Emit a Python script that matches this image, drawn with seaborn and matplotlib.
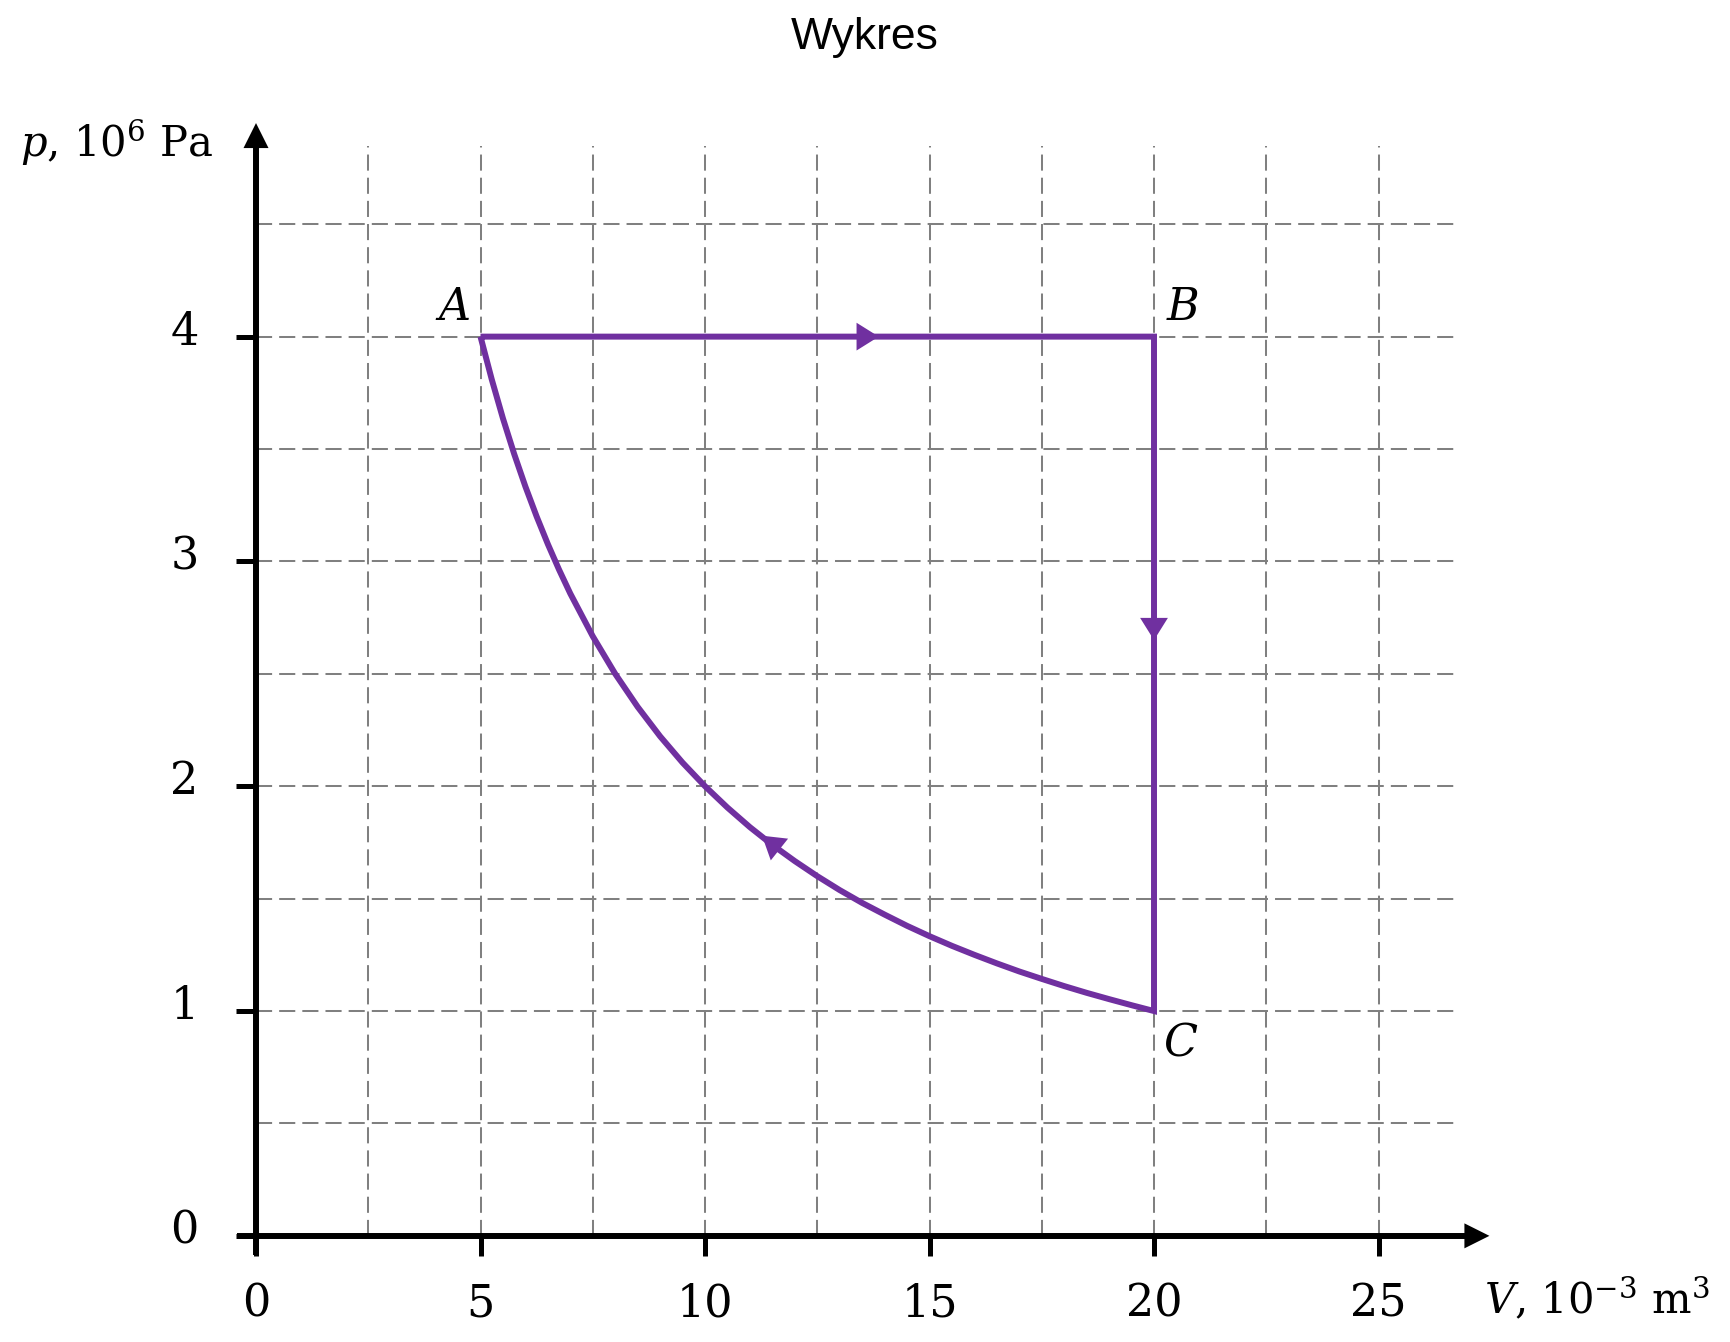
import matplotlib
matplotlib.use("Agg")
import matplotlib.pyplot as plt
import matplotlib.transforms as mtransforms
import seaborn as sns
import pandas as pd

# ---- dane ----
# cykl A -> B -> C -> (izoterma) -> A
V_AB = [5, 20]
p_AB = [4.0, 4.0]
V_BC = [20, 20]
p_BC = [4.0, 1.0]
V_CA = [20, 19.5, 19, 18.5, 18, 17.5, 17, 16.5, 16, 15.5, 15, 14.5, 14, 13.5,
        13, 12.5, 12, 11.5, 11, 10.5, 10, 9.5, 9, 8.5, 8, 7.5, 7, 6.75, 6.5,
        6.25, 6, 5.75, 5.5, 5.25, 5]
p_CA = [1.000, 1.026, 1.053, 1.081, 1.111, 1.143, 1.176, 1.212, 1.250, 1.290,
        1.333, 1.379, 1.429, 1.481, 1.538, 1.600, 1.667, 1.739, 1.818, 1.905,
        2.000, 2.105, 2.222, 2.353, 2.500, 2.667, 2.857, 2.963, 3.077, 3.200,
        3.333, 3.478, 3.636, 3.810, 4.000]

point_names = ["A", "B", "C"]
point_V = [4.37, 20.65, 20.6]
point_p = [4.13, 4.13, 0.86]

# strzałki kierunku: (grot, ogon)
dir_tips = [(13.87, 4.0), (20.0, 2.65), (11.27, 1.78)]
dir_tails = [(13.3, 4.0), (20.0, 2.8), (11.9, 1.68)]

x_ticks = [0, 5, 10, 15, 20, 25]
y_ticks = [0, 1, 2, 3, 4]
grid_V = [2.5, 5, 7.5, 10, 12.5, 15, 17.5, 20, 22.5, 25]
grid_p = [0.5, 1, 1.5, 2, 2.5, 3, 3.5, 4, 4.5]

PURPLE = "#7030A0"

sns.set_theme(style="white")
plt.rcParams["font.family"] = ["DejaVu Serif"]
plt.rcParams["mathtext.fontset"] = "dejavuserif"
plt.rcParams["text.color"] = "black"
plt.rcParams["xtick.color"] = "black"
plt.rcParams["ytick.color"] = "black"

fig = plt.figure(figsize=(17.3, 13.42), dpi=100)
ax = fig.add_axes([0.14798, 0.0791, 0.71373, 0.8292])
ax.set_xlim(0, 27.5)
ax.set_ylim(0, 4.95)
for s in ax.spines.values():
    s.set_visible(False)

# siatka
dash = (0, (8, 3.5))
ax.vlines(grid_V, 0, 4.85, colors="#808080", linewidth=1.45, linestyles=dash, zorder=1)
ax.hlines(grid_p, 0, 26.7, colors="#808080", linewidth=1.45, linestyles=dash, zorder=1)

# osie ze strzałkami
ax.plot([-0.42, 27.2], [0, 0], color="black", lw=4.3, clip_on=False, zorder=3,
        solid_capstyle="butt")
ax.plot([0, 0], [-0.087, 4.9], color="black", lw=4.3, clip_on=False, zorder=3,
        solid_capstyle="butt")
axis_head = dict(arrowstyle="-|>,head_length=18,head_width=9", mutation_scale=1,
                 color="black", lw=0, shrinkA=0, shrinkB=0)
ax.annotate("", xy=(27.47, 0), xytext=(26.9, 0), arrowprops=axis_head,
            annotation_clip=False, zorder=4)
ax.annotate("", xy=(0, 4.95), xytext=(0, 4.8), arrowprops=axis_head,
            annotation_clip=False, zorder=4)

# cykl
cycle = pd.DataFrame({
    "V": V_AB + V_BC[1:] + V_CA[1:],
    "p": p_AB + p_BC[1:] + p_CA[1:],
})
n_before = len(ax.lines)
sns.lineplot(data=cycle, x="V", y="p", sort=False, estimator=None, ax=ax,
             color=PURPLE, zorder=5)
for ln in ax.lines[n_before:]:
    ln.set_linewidth(4.3)
    ln.set_solid_joinstyle("miter")
    ln.set_solid_capstyle("butt")

head = dict(arrowstyle="-|>,head_length=16,head_width=10", mutation_scale=1,
            color=PURPLE, lw=0, shrinkA=0, shrinkB=0)
for tip, tail in zip(dir_tips, dir_tails):
    ax.annotate("", xy=tip, xytext=tail, arrowprops=head, zorder=6)

for name, v, p in zip(point_names, point_V, point_p):
    ax.text(v, p, f"${name}$", fontsize=32, ha="center", va="center")

# osie, podpisy
ax.set_xticks(x_ticks)
ax.set_yticks(y_ticks)
ax.tick_params(axis="both", which="major", direction="out", length=14.4, width=3.6,
               color="black", labelsize=32, labelcolor="black")
ax.tick_params(axis="x", pad=19, bottom=True)
ax.tick_params(axis="y", pad=27, left=True)
ax.set_xlabel("")
ax.set_ylabel("")
shift = mtransforms.ScaledTranslation(0, 6.5 / 72, fig.dpi_scale_trans)
for lab in ax.get_yticklabels():
    lab.set_transform(lab.get_transform() + shift)

fig.text(20 / 1730, 1 - 143 / 1342, r"$p$, $10^6$ Pa", fontsize=30,
         ha="left", va="center")
fig.text(1484 / 1730, 1 - 1300 / 1342, r"$V$, $10^{-3}$ m$^3$", fontsize=30,
         ha="left", va="center")

fig.text(0.5, 1 - 38 / 1342, "Wykres", fontsize=32, family="Liberation Sans",
         ha="center", va="center")

fig.savefig("out.png", dpi=100)
